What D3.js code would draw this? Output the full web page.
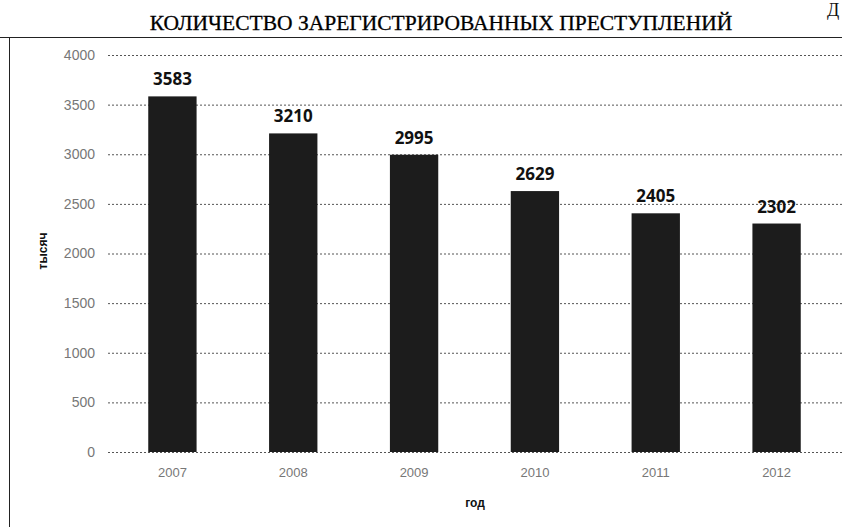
<!DOCTYPE html>
<html>
<head>
<meta charset="utf-8">
<script src="https://cdn.jsdelivr.net/npm/d3@7"></script>
<style>
  html, body { margin: 0; padding: 0; background: #fff; }
  svg { display: block; }
</style>
</head>
<body>
<div id="chart"></div>
<script>
// data
const years = ["2007", "2008", "2009", "2010", "2011", "2012"];
const crimes = [3583, 3210, 2995, 2629, 2405, 2302]; // тысяч
const yTicks = [0, 500, 1000, 1500, 2000, 2500, 3000, 3500, 4000];

function drawChart() {
    const width = 842;
    const height = 527;

    const svg = d3.select("#chart")
        .append("svg")
        .attr("width", width)
        .attr("height", height);

    // plot area bounds
    const left = 112, right = 837, top = 55, bottom = 452;

    const x = d3.scaleBand()
        .domain(years)
        .range([left, right])
        .paddingInner(0.6)
        .paddingOuter(0.3);

    const y = d3.scaleLinear()
        .domain([0, 4000])
        .range([bottom, top]);

    // page frame from the scan
    svg.append("line")
        .attr("x1", 0).attr("x2", width)
        .attr("y1", 37.5).attr("y2", 37.5)
        .attr("stroke", "#222").attr("stroke-width", 1);
    svg.append("line")
        .attr("x1", 9.5).attr("x2", 9.5)
        .attr("y1", 37).attr("y2", height)
        .attr("stroke", "#222").attr("stroke-width", 1);

    // title
    svg.append("text")
        .attr("x", 441)
        .attr("y", 30)
        .attr("text-anchor", "middle")
        .style("font-family", "'Liberation Serif', serif")
        .style("font-size", "21.5px")
        .style("fill", "#000")
        .style("stroke", "#000")
        .style("stroke-width", 0.3)
        .text("КОЛИЧЕСТВО ЗАРЕГИСТРИРОВАННЫХ ПРЕСТУПЛЕНИЙ");

    // letter in the top-right corner
    svg.append("text")
        .attr("x", 827)
        .attr("y", 16)
        .style("font-family", "'Liberation Serif', serif")
        .style("font-size", "18px")
        .style("fill", "#111")
        .text("Д");

    // gridlines + y labels
    const yAxis = svg.append("g")
        .attr("transform", `translate(${left - 4},0)`)
        .call(d3.axisLeft(y)
            .tickValues(yTicks)
            .tickFormat(d3.format("d"))
            .tickSize(-(width - left + 4))
            .tickPadding(13));
    yAxis.select(".domain").remove();
    yAxis.selectAll(".tick line")
        .attr("stroke", "#555")
        .attr("stroke-dasharray", "2,2");
    yAxis.selectAll(".tick text")
        .style("font-family", "'Liberation Sans', sans-serif")
        .style("font-size", "14px")
        .style("fill", "#777");

    // bars
    svg.append("g")
        .selectAll("rect")
        .data(crimes)
        .join("rect")
        .attr("x", (d, i) => x(years[i]))
        .attr("y", d => y(d))
        .attr("width", x.bandwidth())
        .attr("height", d => y(0) - y(d))
        .attr("fill", "#1c1c1c");

    // value labels
    svg.append("g")
        .selectAll("text")
        .data(crimes)
        .join("text")
        .attr("x", (d, i) => x(years[i]) + x.bandwidth() / 2)
        .attr("y", d => y(d) - 11)
        .attr("text-anchor", "middle")
        .style("font-family", "'Open Sans', sans-serif")
        .style("font-weight", "bold")
        .style("font-size", "17px")
        .style("fill", "#111")
        .text(d => d);

    // x axis
    const xAxis = svg.append("g")
        .attr("transform", `translate(0,${bottom})`)
        .call(d3.axisBottom(x).tickSize(0).tickPadding(16));
    xAxis.select(".domain").remove();
    xAxis.selectAll(".tick text")
        .style("font-family", "'Liberation Sans', sans-serif")
        .style("font-size", "13px")
        .style("fill", "#777");

    // axis titles
    svg.append("text")
        .attr("x", 475)
        .attr("y", 507)
        .attr("text-anchor", "middle")
        .style("font-family", "'Liberation Sans', sans-serif")
        .style("font-weight", "bold")
        .style("font-size", "12px")
        .style("fill", "#111")
        .text("год");

    svg.append("text")
        .attr("transform", "translate(47,251) rotate(-90)")
        .attr("text-anchor", "middle")
        .style("font-family", "'Liberation Sans', sans-serif")
        .style("font-weight", "bold")
        .style("font-size", "12px")
        .style("fill", "#111")
        .text("тысяч");
}

window.onload = drawChart;
</script>
</body>
</html>
